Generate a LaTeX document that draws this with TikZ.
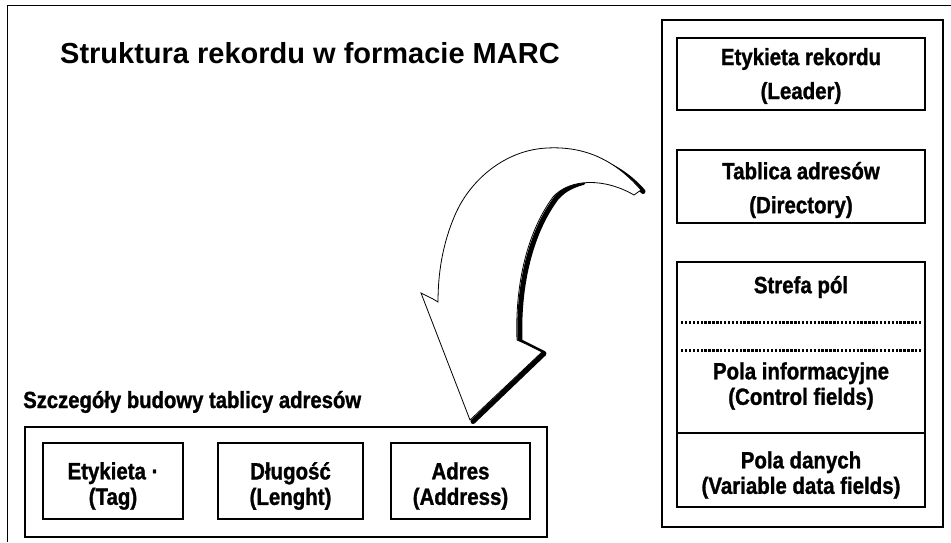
\documentclass[tikz,border=0pt]{standalone}
\usepackage{fontspec}
\setmainfont{Liberation Sans}
\newfontfamily\boxfont[FakeStretch=0.87, BoldFeatures={FakeBold=1.2}]{Liberation Sans}
\begin{document}
\begin{tikzpicture}[x=1pt,y=-1pt,
  frameline/.style={line width=0.9pt},
  recbox/.style={draw, line width=1.4pt, inner sep=0pt, outer sep=0pt},
  boxtxt/.style={font=\boxfont\bfseries\fontsize{23.5}{25.5}\selectfont, align=center, inner sep=0pt},
  widetxt/.style={boxtxt, font=\boxfont\bfseries\fontsize{23.5}{34}\selectfont},
  titletxt/.style={font=\bfseries\fontsize{29}{32}\selectfont, inner sep=0pt, anchor=base west},
  dotline/.style={line width=3pt, dash pattern=on 2.4pt off 1.5pt},
  arrowshadow/.style={line width=5pt, line join=round, line cap=round},
  arrowbody/.style={draw, fill=white, line width=0.8pt, line join=miter}
]
\useasboundingbox (0,0) rectangle (951,542);
% outer frame (top and left edges visible)
\draw[frameline] (951,5) -- (7,5) -- (7,542);

% title
\node[titletxt] (title) at (60,63) {Struktura rekordu w formacie MARC};

% right column
\node[recbox, minimum width=281pt, minimum height=507pt] (rightcol) at (802.5,273.5) {};
\node[recbox, minimum width=248pt, minimum height=72pt] (leader) at (801,74) {};
\node[widetxt] (leadertxt) at (801,76) {Etykieta rekordu\\(Leader)};
\node[recbox, minimum width=248pt, minimum height=73pt] (directory) at (801,186.5) {};
\node[widetxt] (directorytxt) at (801,190) {Tablica adresów\\(Directory)};
\node[recbox, minimum width=248pt, minimum height=245pt] (fields) at (801,384.5) {};
\node[boxtxt] (strefa) at (801,287) {Strefa pól};
\draw[dotline] (681,322) -- (921,322);
\draw[dotline] (681,350) -- (921,350);
\node[boxtxt] (control) at (801,386) {Pola informacyjne\\(Control fields)};
\draw[line width=1.8pt] (677,433) -- (925,433);
\node[boxtxt] (variable) at (801,475) {Pola danych\\(Variable data fields)};

% directory details
\node[boxtxt, font=\boxfont\bfseries\fontsize{23.3}{28}\selectfont, anchor=base west] (dettitle) at (23,408) {Szczegóły budowy tablicy adresów};
\node[recbox, minimum width=522pt, minimum height=110pt] (details) at (286,482) {};
\node[recbox, minimum width=140pt, minimum height=76pt] (tag) at (113,481) {};
\node[boxtxt] (tagtxt) at (113,486) {Etykieta ·\\(Tag)};
\node[recbox, minimum width=145pt, minimum height=76pt] (length) at (290.5,481) {};
\node[boxtxt] (lengthtxt) at (290.5,486) {Długość\\(Lenght)};
\node[recbox, minimum width=139pt, minimum height=76pt] (address) at (460.5,481) {};
\node[boxtxt] (addresstxt) at (460.5,486) {Adres\\(Address)};

% curved block arrow: shadow first
\begin{scope}[shift={(3,1.5)}]
\draw[arrowshadow] (586,156) .. controls (610,163) and (628,176) .. (640,190);
\draw[arrowshadow] (580,181) .. controls (565,185) and (558,191) .. (553,197)
  .. controls (525,235) and (515,290) .. (517,340) -- (541,352) -- (470,420);
\end{scope}
\path[arrowbody] (641,190)
  .. controls (615,160) and (585,146) .. (547,148)
  .. controls (505,150) and (470,180) .. (455,215)
  .. controls (442,245) and (438,275) .. (438,302)
  -- (433,299) -- (421,293) -- (470,420) -- (542,352) -- (526,344) -- (517,340)
  .. controls (515,290) and (525,235) .. (553,197)
  .. controls (570,178) and (605,178) .. (634,195) -- cycle;
\end{tikzpicture}
\end{document}
